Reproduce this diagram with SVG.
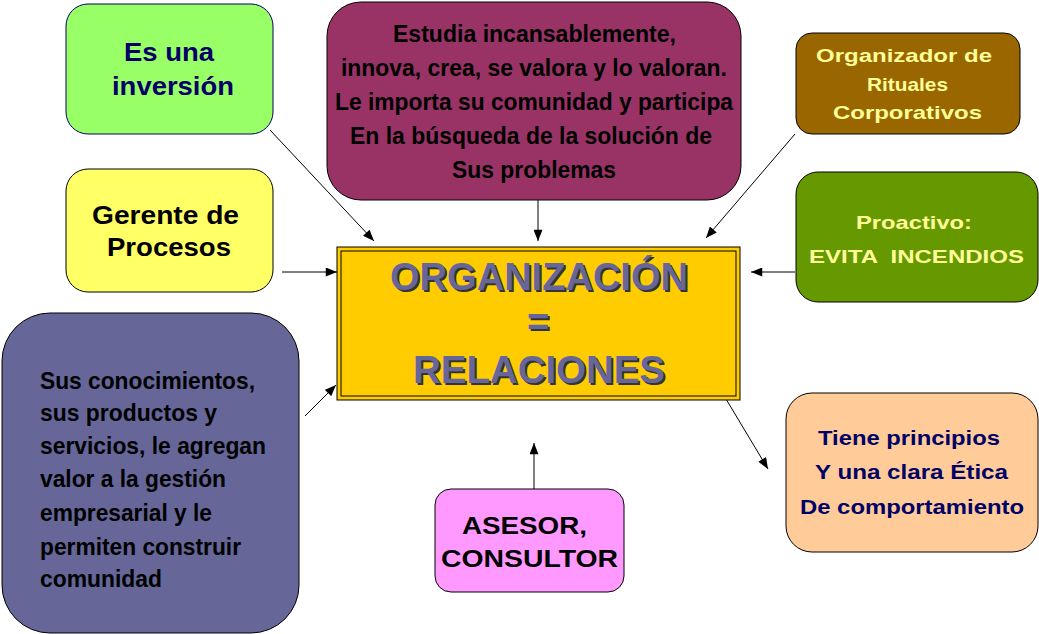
<svg xmlns="http://www.w3.org/2000/svg" width="1039" height="634" viewBox="0 0 1039 634">
<style>
text{font-family:"Liberation Sans",Arial,sans-serif;font-weight:bold;dominant-baseline:central}
.c{text-anchor:middle}
.l{text-anchor:start}
.box{stroke:#000;stroke-width:1}
.con{stroke:#000;stroke-width:1;fill:none;marker-end:url(#ah)}
</style>
<defs>
<marker id="ah" viewBox="0 0 10 8" refX="10" refY="4" markerWidth="12" markerHeight="9" markerUnits="userSpaceOnUse" orient="auto">
<path d="M0,0 L10,4 L0,8 Z" fill="#000"/>
</marker>
</defs>
<rect width="1039" height="634" fill="#fff"/>
<g id="connectors">
<line class="con" x1="270" y1="130" x2="374" y2="241"/>
<line class="con" x1="282" y1="272" x2="337" y2="272"/>
<line class="con" x1="538" y1="180" x2="538" y2="241"/>
<line class="con" x1="795" y1="134" x2="706" y2="238"/>
<line class="con" x1="795" y1="272" x2="751" y2="272"/>
<line class="con" x1="305" y1="416" x2="336" y2="385"/>
<line class="con" x1="534" y1="489" x2="534" y2="443"/>
<line class="con" x1="723" y1="394" x2="768" y2="469"/>
</g>
<g id="n-inversion">
<rect x="66" y="4" width="207" height="130" rx="22" fill="#99ff66" stroke="#000066"/>
<text class="c" x="169" y="52" font-size="25" fill="#000066" textLength="90" lengthAdjust="spacingAndGlyphs">Es una</text>
<text class="c" x="173" y="86" font-size="25" fill="#000066" textLength="122" lengthAdjust="spacingAndGlyphs">inversión</text>
</g>
<g id="n-gerente">
<rect class="box" x="66" y="169" width="207" height="123" rx="22" fill="#ffff66"/>
<text class="c" x="165.5" y="215" font-size="25" fill="#000" textLength="147" lengthAdjust="spacingAndGlyphs">Gerente de</text>
<text class="c" x="169" y="247" font-size="25" fill="#000" textLength="124" lengthAdjust="spacingAndGlyphs">Procesos</text>
</g>
<g id="n-estudia">
<rect class="box" x="327" y="2" width="414" height="198" rx="34" fill="#993366"/>
<text class="c" x="534.5" y="33" font-size="24" fill="#000" textLength="283" lengthAdjust="spacingAndGlyphs">Estudia incansablemente,</text>
<text class="c" x="534" y="67" font-size="24" fill="#000" textLength="386" lengthAdjust="spacingAndGlyphs">innova, crea, se valora y lo valoran.</text>
<text class="c" x="534" y="101" font-size="24" fill="#000" textLength="398" lengthAdjust="spacingAndGlyphs">Le importa su comunidad y participa</text>
<text class="c" x="531" y="135" font-size="24" fill="#000" textLength="362" lengthAdjust="spacingAndGlyphs">En la búsqueda de la solución de</text>
<text class="c" x="534" y="169" font-size="24" fill="#000" textLength="164" lengthAdjust="spacingAndGlyphs">Sus problemas</text>
</g>
<g id="n-organizador">
<rect class="box" x="796" y="33" width="224" height="101" rx="16" fill="#996600"/>
<text class="c" x="904" y="55" font-size="19" fill="#ffff99" textLength="176" lengthAdjust="spacingAndGlyphs">Organizador de</text>
<text class="c" x="907.5" y="84" font-size="19" fill="#ffff99" textLength="81" lengthAdjust="spacingAndGlyphs">Rituales</text>
<text class="c" x="907.5" y="112" font-size="19" fill="#ffff99" textLength="149" lengthAdjust="spacingAndGlyphs">Corporativos</text>
</g>
<g id="n-proactivo">
<rect class="box" x="796" y="172" width="242" height="130" rx="22" fill="#669900"/>
<text class="c" x="914" y="222" font-size="19" fill="#ffff99" textLength="116" lengthAdjust="spacingAndGlyphs">Proactivo:</text>
<text class="c" x="916.5" y="256" font-size="19" fill="#ffff99" xml:space="preserve" textLength="215" lengthAdjust="spacingAndGlyphs">EVITA  INCENDIOS</text>
</g>
<g id="n-central">
<rect x="337" y="247" width="403" height="153" fill="#ffcc00" stroke="#000" stroke-width="1"/>
<rect x="341" y="251" width="395" height="145" fill="none" stroke="#000" stroke-width="1"/>
<g fill="#333333" transform="translate(2,2)">
<text class="c" x="539" y="277" font-size="38" textLength="298" lengthAdjust="spacingAndGlyphs">ORGANIZACIÓN</text>
<text class="c" x="538" y="322" font-size="38">=</text>
<text class="c" x="539" y="370" font-size="38" textLength="252" lengthAdjust="spacingAndGlyphs">RELACIONES</text>
</g>
<g fill="#666699">
<text class="c" x="539" y="277" font-size="38" textLength="298" lengthAdjust="spacingAndGlyphs">ORGANIZACIÓN</text>
<text class="c" x="538" y="322" font-size="38">=</text>
<text class="c" x="539" y="370" font-size="38" textLength="252" lengthAdjust="spacingAndGlyphs">RELACIONES</text>
</g>
</g>
<g id="n-conocimientos">
<rect class="box" x="2" y="313" width="297" height="320" rx="48" fill="#666699"/>
<text class="l" x="40" y="380" font-size="24" fill="#000" textLength="215" lengthAdjust="spacingAndGlyphs">Sus conocimientos,</text>
<text class="l" x="40" y="412" font-size="24" fill="#000" textLength="177" lengthAdjust="spacingAndGlyphs">sus productos y</text>
<text class="l" x="40" y="445" font-size="24" fill="#000" textLength="226" lengthAdjust="spacingAndGlyphs">servicios, le agregan</text>
<text class="l" x="40" y="478" font-size="24" fill="#000" textLength="186" lengthAdjust="spacingAndGlyphs">valor a la gestión</text>
<text class="l" x="40" y="512" font-size="24" fill="#000" textLength="172" lengthAdjust="spacingAndGlyphs">empresarial y le</text>
<text class="l" x="40" y="546" font-size="24" fill="#000" textLength="201" lengthAdjust="spacingAndGlyphs">permiten construir</text>
<text class="l" x="40" y="578" font-size="24" fill="#000" textLength="122" lengthAdjust="spacingAndGlyphs">comunidad</text>
</g>
<g id="n-asesor">
<rect class="box" x="435" y="489" width="189" height="103" rx="16" fill="#ff99ff"/>
<text class="c" x="524.5" y="525" font-size="24" fill="#000" textLength="125" lengthAdjust="spacingAndGlyphs">ASESOR,</text>
<text class="c" x="529.5" y="558" font-size="24" fill="#000" textLength="177" lengthAdjust="spacingAndGlyphs">CONSULTOR</text>
</g>
<g id="n-principios">
<rect class="box" x="786" y="393" width="252" height="159" rx="26" fill="#ffcc99"/>
<text class="c" x="909" y="438" font-size="20" fill="#000066" textLength="182" lengthAdjust="spacingAndGlyphs">Tiene principios</text>
<text class="c" x="911.5" y="472" font-size="20" fill="#000066" textLength="193" lengthAdjust="spacingAndGlyphs">Y una clara Ética</text>
<text class="c" x="912" y="507" font-size="20" fill="#000066" textLength="224" lengthAdjust="spacingAndGlyphs">De comportamiento</text>
</g>
</svg>
